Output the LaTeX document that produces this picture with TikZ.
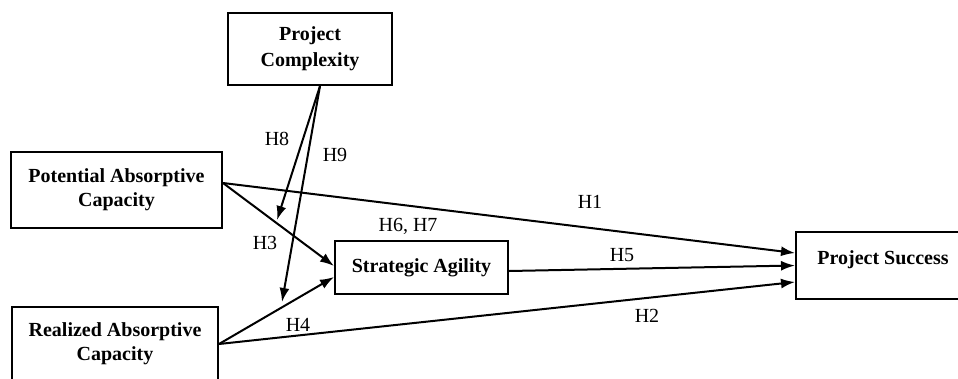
\documentclass[tikz,border=0pt]{standalone}
\usepackage{fontspec}
\setmainfont{Liberation Serif}
\usetikzlibrary{arrows.meta,calc}

\begin{document}
\begin{tikzpicture}[
    x=1pt, y=-1pt,
    construct/.style={rectangle, draw, line width=2pt, align=center, inner sep=0pt, font=\fontsize{20}{24}\selectfont\bfseries},
    link/.style={-{Latex[length=14pt,width=10pt]}, line width=2pt},
    hyp/.style={font=\fontsize{20}{24}\selectfont}
  ]
    \useasboundingbox (0,0) rectangle (958,378);

    \node[construct, minimum width=164pt, minimum height=72pt] (pc) at (310,49) {
      Project\\[2pt]
      Complexity
    };

    \node[construct, minimum width=211pt, minimum height=76pt] (pac) at (116.5,190) {
      Potential Absorptive\\
      Capacity
    };

    \node[construct, minimum width=206pt, minimum height=74pt] (rac) at (115,344) {
      Realized Absorptive\\
      Capacity
    };

    \node[construct, minimum width=173pt, minimum height=53pt] (sa) at (421.5,267.5) {Strategic Agility};

    \node[construct, minimum width=174pt, minimum height=67pt, text depth=16pt] (ps) at (883,265.5) {Project Success};

    % moderation ends on the two paths into agility
    \coordinate (h8end) at (277,220);
    \coordinate (h9end) at (282,302);

    \draw[link] ($(pac.east)+(0,-7)$) -- ($(ps.west)+(0,-12.5)$);
    \draw[link] ($(pac.east)+(0,-7)$) -- ($(sa.west)+(0,-1.5)$);
    \draw[link] (rac.east) -- ($(sa.west)+(0,9.5)$);
    \draw[link] (rac.east) -- ($(ps.west)+(0,16.5)$);
    \draw[link] ($(sa.east)+(0,3.5)$) -- (ps.west);
    \draw[link] ($(pc.south)+(10,0)$) -- (h8end);
    \draw[link] ($(pc.south)+(10,0)$) -- (h9end);

    \node[hyp] (h1) at (590,202) {H1};
    \node[hyp] (h2) at (647,316) {H2};
    \node[hyp] (h3) at (265,243) {H3};
    \node[hyp] (h4) at (298,325) {H4};
    \node[hyp] (h5) at (622,255) {H5};
    \node[hyp] (h67) at (408,226) {H6, H7};
    \node[hyp] (h8) at (277,139) {H8};
    \node[hyp] (h9) at (335,155) {H9};
  \end{tikzpicture}
\end{document}
